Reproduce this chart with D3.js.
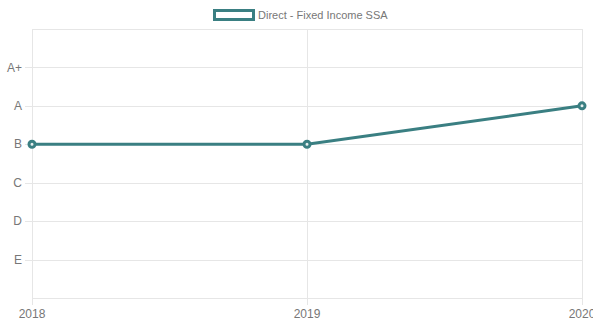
<!DOCTYPE html>
<html>
<head>
<meta charset="utf-8">
<script src="https://cdn.jsdelivr.net/npm/d3@7/dist/d3.min.js"></script>
<style>
  html, body { margin: 0; padding: 0; background: #fff; overflow: hidden; }
  svg { display: block; font-family: "Liberation Sans", Arial, Helvetica, sans-serif; }
</style>
</head>
<body>
<svg id="chart" width="593" height="322"></svg>
<script>
// Rating history for one holding
const years = ["2018", "2019", "2020"];
const ratingScale = ["A+", "A", "B", "C", "D", "E"];
const ratings = ["B", "B", "A"];
const seriesName = "Direct - Fixed Income SSA";

const W = 593, H = 322;
const plot = { left: 32, right: 582, top: 29, bottom: 298 };
const lineColor = "#3a7f82";
const gridColor = "#e6e6e6";
const textColor = "#777";

const svg = d3.select("#chart");

const x = d3.scalePoint().domain(years).range([plot.left, plot.right]);
const y = d3.scalePoint().domain(ratingScale).range([plot.top, plot.bottom]).padding(1);

// horizontal grid lines (including plot top and bottom edges)
const hLines = [plot.top, ...ratingScale.map(r => y(r)), plot.bottom];
svg.append("g").selectAll("line").data(hLines).join("line")
  .attr("x1", (d, i) => (i === 0 || i === hLines.length - 1) ? plot.left : plot.left - 7)
  .attr("x2", plot.right)
  .attr("y1", d => Math.round(d) + 0.5).attr("y2", d => Math.round(d) + 0.5)
  .attr("stroke", gridColor).attr("stroke-width", 1);

// vertical grid lines
svg.append("g").selectAll("line").data(years).join("line")
  .attr("x1", d => Math.round(x(d)) + 0.5).attr("x2", d => Math.round(x(d)) + 0.5)
  .attr("y1", plot.top).attr("y2", plot.bottom + 7)
  .attr("stroke", gridColor).attr("stroke-width", 1);

// y axis labels
svg.append("g").selectAll("text").data(ratingScale).join("text")
  .attr("x", plot.left - 10)
  .attr("y", d => y(d))
  .attr("dy", "0.35em")
  .attr("text-anchor", "end")
  .attr("font-size", 12)
  .attr("fill", textColor)
  .text(d => d);

// x axis labels
svg.append("g").selectAll("text").data(years).join("text")
  .attr("x", d => x(d))
  .attr("y", plot.bottom + 20)
  .attr("text-anchor", "middle")
  .attr("font-size", 12)
  .attr("fill", textColor)
  .text(d => d);

// series line
const pts = years.map((yr, i) => ({ yr, r: ratings[i] }));
svg.append("path")
  .datum(pts)
  .attr("d", d3.line().x(d => x(d.yr)).y(d => y(d.r)))
  .attr("fill", "none")
  .attr("stroke", lineColor)
  .attr("stroke-width", 3);

svg.append("g").selectAll("circle").data(pts).join("circle")
  .attr("cx", d => x(d.yr)).attr("cy", d => y(d.r))
  .attr("r", 3)
  .attr("fill", "#e8f0f0")
  .attr("stroke", lineColor)
  .attr("stroke-width", 3);

// legend
const legend = svg.append("g");
legend.append("rect")
  .attr("x", 214.5).attr("y", 10.5).attr("width", 39).attr("height", 9)
  .attr("fill", "#fff").attr("stroke", lineColor).attr("stroke-width", 3);
legend.append("text")
  .attr("x", 258).attr("y", 15)
  .attr("dy", "0.35em")
  .attr("font-size", 11)
  .attr("fill", textColor)
  .text(seriesName);
</script>
</body>
</html>
